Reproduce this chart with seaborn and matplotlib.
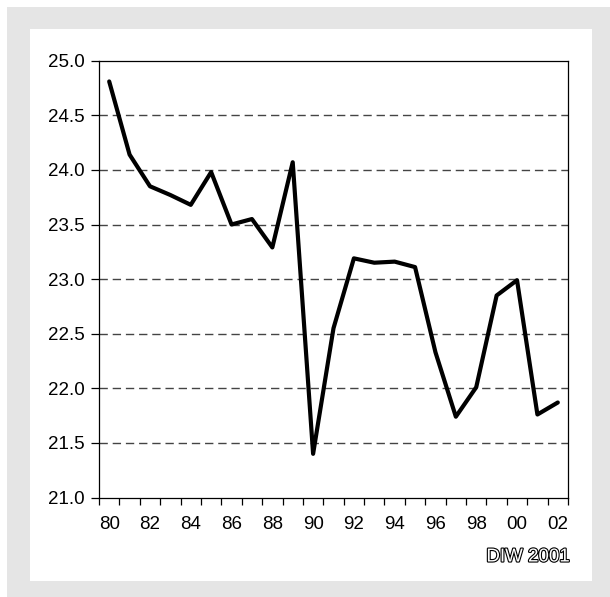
import numpy as np
import pandas as pd
import matplotlib
matplotlib.use("Agg")
import matplotlib.pyplot as plt
import matplotlib.patheffects as pe
from matplotlib.patches import Rectangle
import seaborn as sns

# Data (1980-2002)
years = ["80", "81", "82", "83", "84", "85", "86", "87", "88", "89", "90", "91",
         "92", "93", "94", "95", "96", "97", "98", "99", "00", "01", "02"]
values = [24.81, 24.14, 23.85, 23.77, 23.68, 23.98, 23.50, 23.55, 23.29, 24.07,
          21.40, 22.55, 23.19, 23.15, 23.16, 23.11, 22.33, 21.74, 22.01, 22.85,
          22.99, 21.76, 21.87]
y_ticks = [21.0, 21.5, 22.0, 22.5, 23.0, 23.5, 24.0, 24.5, 25.0]
source_note = "DIW 2001"

sns.set_theme(style="white")
plt.rcParams["font.family"] = ["Liberation Sans", "DejaVu Sans"]

df = pd.DataFrame({"pos": np.arange(len(years)), "value": values})

fig = plt.figure(figsize=(6.10, 5.97), dpi=100)
fig.patch.set_facecolor("white")

# grey frame with white inner panel
fig.add_artist(Rectangle((7 / 610, 0), 603 / 610, 590 / 597,
                         transform=fig.transFigure, facecolor="#e5e5e5",
                         edgecolor="none", zorder=-2))
fig.add_artist(Rectangle((30 / 610, 1 - 581 / 597), 562 / 610, 552 / 597,
                         transform=fig.transFigure, facecolor="white",
                         edgecolor="none", zorder=-1))

ax = fig.add_axes([99 / 610, 1 - 497.5 / 597, 469 / 610, 436.8 / 597])
ax.set_facecolor("white")
ax.set_zorder(2)

sns.lineplot(data=df, x="pos", y="value", ax=ax, color="black", linewidth=3.0,
             zorder=3)

ax.set_xlim(-0.5, len(years) - 0.5)
ax.set_ylim(21.0, 25.0)

# horizontal dashed grid
for v in y_ticks[1:-1]:
    ax.axhline(v, color="#444444", linewidth=1.0, dashes=(6, 3.5), zorder=1)

ax.set_yticks(y_ticks)
ax.set_yticklabels([f"{v:.1f}" for v in y_ticks])
ax.tick_params(axis="y", which="major", direction="out", length=5.5, width=0.9,
               color="black", pad=5, labelsize=13.5, labelcolor="black",
               left=True)

# category boundaries as tick marks, labels every 2 years in between
ax.set_xticks(np.arange(len(years) + 1) - 0.5)
ax.set_xticklabels([])
ax.set_xticks(np.arange(0, len(years), 2), minor=True)
ax.set_xticklabels(years[::2], minor=True)
ax.tick_params(axis="x", which="major", direction="out", length=5, width=0.9,
               color="black", bottom=True)
ax.tick_params(axis="x", which="minor", length=0, pad=13, labelsize=13.5,
               labelcolor="black", bottom=True)

for s in ax.spines.values():
    s.set_visible(True)
    s.set_color("black")
    s.set_linewidth(0.9)

ax.set_xlabel("")
ax.set_ylabel("")

fig.text(570 / 610, 1 - 557 / 597, source_note, ha="right", va="center",
         fontsize=13.5, color="white", zorder=3,
         path_effects=[pe.withStroke(linewidth=1.6, foreground="black")])

fig.savefig("out.png", dpi=100, facecolor=fig.get_facecolor())
